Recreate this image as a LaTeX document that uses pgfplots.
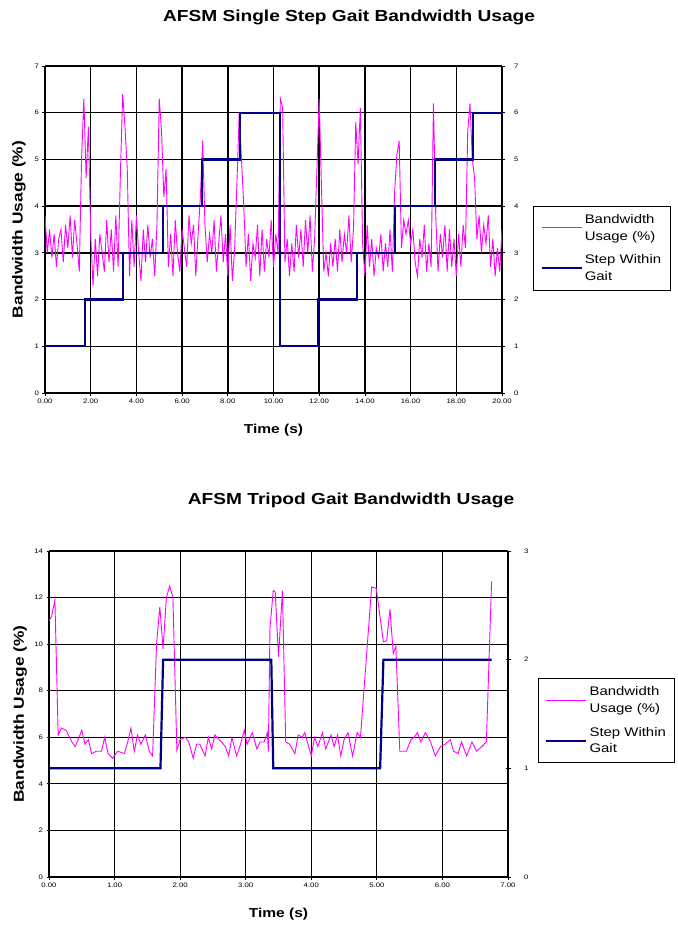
\documentclass[border=0pt]{standalone}
\usepackage{fontspec}
\setmainfont{Liberation Sans}[FakeStretch=1.2]
\usepackage{pgfplots}
\pgfplotsset{compat=1.18}
\definecolor{bwmag}{RGB}{255,0,255}
\definecolor{stepnavy}{RGB}{0,0,128}
\pgfplotsset{
  base/.style={
    scale only axis, anchor=south west,
    /pgf/number format/assume math mode=true,
    ticklabel style={font=\fontsize{6.5}{7}\selectfont},
    axis line style={black, line width=1bp},
    tick style={black, line width=0.8bp},
    tick align=center, major tick length=5bp,
    every axis y label/.style={rotate=90, anchor=center, font=\bfseries\fontsize{14.5}{16}\selectfont},
    every axis x label/.style={at={(axis description cs:0.5,0)}, anchor=center, yshift=-37bp, font=\bfseries\fontsize{13}{15}\selectfont},
    legend image code/.code={\draw[#1] (0bp,0bp) -- (40bp,0bp);},
    legend cell align=left,
    legend style={draw=black, line width=1bp, font=\fontsize{12.5}{17}\selectfont, cells={align=left}, row sep=9bp, inner xsep=7bp, inner ysep=6bp, /tikz/column 2/.style={column sep=5bp}},
  },
}
\begin{document}
\begin{tikzpicture}
\useasboundingbox (0,0) rectangle (678bp,-926bp);
\node[font=\bfseries\fontsize{16}{18}\selectfont] at (349bp,-17bp) {AFSM Single Step Gait Bandwidth Usage};
\node[font=\bfseries\fontsize{16}{18}\selectfont] at (351bp,-500bp) {AFSM Tripod Gait Bandwidth Usage};
% ---------- top chart ----------
\begin{axis}[base, at={(45bp,-393bp)}, width=457bp, height=327bp,
  xmin=0, xmax=20, ymin=0, ymax=7,
  xtick={0,2,...,20}, ytick={0,1,...,7},
  xticklabel style={/pgf/number format/.cd, fixed, fixed zerofill, precision=2},
  grid=major, major grid style={black, line width=1.5bp},
  axis y line*=left, axis x line*=bottom,
  xlabel={Time (s)}, ylabel={Bandwidth Usage (\%)},
  ylabel style={at={(axis description cs:-0.057,0.5)}}]
\addplot[bwmag, line width=0.9bp] coordinates {
(0.0,3.8)(0.1,3.0)(0.2,3.5)(0.3,2.9)(0.4,3.4)(0.5,2.7)(0.6,3.3)(0.7,3.5)(0.8,2.8)(0.9,3.6)
(1.0,3.1)(1.1,3.8)(1.2,2.9)(1.3,3.7)(1.4,3.2)(1.5,2.6)(1.6,5.0)(1.7,6.3)(1.8,4.6)(1.9,5.7)
(2.0,3.4)(2.1,2.3)(2.2,3.3)(2.3,2.5)(2.4,3.4)(2.5,3.0)(2.6,2.6)(2.7,3.7)(2.8,2.8)(2.9,3.5)
(3.0,2.6)(3.1,3.8)(3.2,2.7)(3.3,4.7)(3.4,6.4)(3.5,5.7)(3.6,4.8)(3.7,2.5)(3.8,3.7)(3.9,2.7)
(4.0,3.8)(4.1,3.0)(4.2,2.4)(4.3,3.5)(4.4,2.8)(4.5,3.6)(4.6,2.9)(4.7,3.3)(4.8,2.5)(4.9,3.6)
(5.0,6.3)(5.1,5.6)(5.2,4.2)(5.3,4.8)(5.4,2.7)(5.5,3.4)(5.6,2.5)(5.7,3.7)(5.8,3.0)(5.9,2.6)
(6.0,3.5)(6.1,3.1)(6.2,2.7)(6.3,3.8)(6.4,3.2)(6.5,3.6)(6.6,2.5)(6.7,3.4)(6.8,4.2)(6.9,5.4)
(7.0,3.6)(7.1,2.8)(7.2,3.4)(7.3,3.0)(7.4,3.7)(7.5,2.6)(7.6,3.2)(7.7,3.8)(7.8,2.8)(7.9,3.4)
(8.0,2.5)(8.1,3.6)(8.2,2.4)(8.3,3.1)(8.4,4.5)(8.5,6.0)(8.6,5.0)(8.7,4.0)(8.8,2.7)(8.9,3.4)
(9.0,2.4)(9.1,3.2)(9.2,2.9)(9.3,3.6)(9.4,2.5)(9.5,3.5)(9.6,2.6)(9.7,3.3)(9.8,2.9)(9.9,3.7)
(10.0,2.7)(10.1,3.4)(10.2,3.0)(10.3,6.3)(10.4,6.1)(10.5,2.8)(10.6,3.3)(10.7,2.5)(10.8,3.2)(10.9,2.6)
(11.0,3.6)(11.1,2.9)(11.2,3.5)(11.3,2.7)(11.4,3.7)(11.5,3.0)(11.6,3.8)(11.7,2.6)(11.8,3.3)(11.9,4.8)
(12.0,6.3)(12.1,4.4)(12.2,2.6)(12.3,3.0)(12.4,2.5)(12.5,3.2)(12.6,2.7)(12.7,3.3)(12.8,2.6)(12.9,3.5)
(13.0,2.8)(13.1,3.4)(13.2,3.0)(13.3,3.8)(13.4,2.8)(13.5,3.5)(13.6,5.8)(13.7,4.9)(13.8,6.1)(13.9,3.2)
(14.0,2.5)(14.1,3.6)(14.2,2.7)(14.3,3.3)(14.4,2.5)(14.5,3.1)(14.6,2.9)(14.7,3.4)(14.8,2.6)(14.9,3.2)
(15.0,2.7)(15.1,3.5)(15.2,2.6)(15.3,4.3)(15.4,5.1)(15.5,5.4)(15.6,3.1)(15.7,3.7)(15.8,3.4)(15.9,3.7)
(16.0,3.2)(16.1,3.5)(16.2,2.8)(16.3,2.5)(16.4,3.3)(16.5,2.9)(16.6,3.6)(16.7,2.6)(16.8,3.2)(16.9,2.7)
(17.0,6.2)(17.1,3.8)(17.2,2.6)(17.3,3.4)(17.4,2.9)(17.5,3.6)(17.6,2.6)(17.7,3.5)(17.8,2.7)(17.9,3.3)
(18.0,2.5)(18.1,3.4)(18.2,2.7)(18.3,3.6)(18.4,3.1)(18.5,5.6)(18.6,6.2)(18.7,5.0)(18.8,4.6)(18.9,3.3)
(19.0,3.8)(19.1,3.0)(19.2,3.6)(19.3,3.2)(19.4,3.8)(19.5,2.7)(19.6,3.3)(19.7,2.5)(19.8,3.1)(19.9,2.6)
(20.0,3.5)};
\end{axis}
\begin{axis}[base, at={(45bp,-393bp)}, width=457bp, height=327bp,
  xmin=0, xmax=20, ymin=0, ymax=7, ytick={0,1,...,7},
  yticklabel style={xshift=6bp},
  axis y line*=right, axis x line=none,
  legend style={at={(1.068,0.443)}, anchor=west}]
\addlegendimage{bwmag, line width=1bp}
\addlegendentry{Bandwidth\\Usage (\%)}
\addplot[stepnavy, line width=2.2bp] coordinates {
(0,1)(1.75,1)(1.75,2)(3.41,2)(3.41,3)(5.16,3)(5.16,4)(6.87,4)(6.87,5)(8.53,5)(8.53,6)(10.28,6)
(10.28,1)(11.95,1)(11.95,2)(13.65,2)(13.65,3)(15.3,3)(15.3,4)(17.07,4)(17.07,5)(18.73,5)(18.73,6)(20,6)};
\addlegendentry{Step Within\\Gait}
\end{axis}
% ---------- bottom chart ----------
\begin{axis}[base, at={(49bp,-877bp)}, width=459bp, height=326bp,
  xmin=0, xmax=7, ymin=0, ymax=14,
  xtick={0,1,...,7}, ytick={0,2,...,14},
  xticklabel style={/pgf/number format/.cd, fixed, fixed zerofill, precision=2},
  grid=major, major grid style={black, line width=1.1bp},
  axis y line*=left, axis x line*=bottom,
  xlabel={Time (s)}, ylabel={Bandwidth Usage (\%)},
  ylabel style={at={(axis description cs:-0.063,0.5)}}]
\addplot[bwmag, line width=0.9bp] coordinates {
(0.00,11.0)(0.04,11.2)(0.09,11.9)(0.14,6.1)(0.19,6.4)(0.26,6.3)(0.35,5.8)(0.40,5.6)(0.50,6.3)(0.55,5.7)
(0.60,5.9)(0.65,5.3)(0.72,5.4)(0.80,5.4)(0.85,6.0)(0.90,5.3)(0.97,5.1)(1.05,5.4)(1.15,5.3)(1.20,5.8)
(1.25,6.4)(1.30,5.4)(1.35,6.1)(1.40,5.7)(1.47,6.1)(1.53,5.4)(1.58,5.2)(1.64,10.0)(1.69,11.6)(1.74,9.8)
(1.79,12.0)(1.84,12.5)(1.89,12.0)(1.95,5.45)(2.00,5.9)(2.08,6.0)(2.13,5.8)(2.20,5.1)(2.25,5.7)(2.30,5.7)
(2.38,5.2)(2.43,6.0)(2.48,5.5)(2.53,6.1)(2.63,5.8)(2.69,5.6)(2.74,5.2)(2.79,6.0)(2.86,5.2)(2.91,5.6)
(2.98,6.3)(3.02,5.7)(3.10,6.2)(3.17,5.5)(3.22,5.8)(3.28,5.8)(3.33,6.2)(3.345,5.4)(3.37,10.7)(3.42,12.3)
(3.45,12.25)(3.50,9.45)(3.56,12.3)(3.61,5.8)(3.67,5.7)(3.75,5.3)(3.80,6.1)(3.86,6.0)(3.90,6.2)(3.94,5.8)
(4.00,5.2)(4.05,6.0)(4.10,5.6)(4.17,6.2)(4.22,5.5)(4.30,6.1)(4.35,5.6)(4.40,6.1)(4.45,5.2)(4.50,5.9)
(4.56,6.2)(4.63,5.2)(4.70,6.2)(4.75,6.0)(4.92,12.45)(4.99,12.4)(5.10,10.1)(5.15,10.15)(5.20,11.5)(5.25,9.6)
(5.29,9.9)(5.35,5.4)(5.45,5.4)(5.52,5.9)(5.57,6.0)(5.62,6.2)(5.67,5.8)(5.74,6.2)(5.82,5.8)(5.89,5.2)
(5.97,5.6)(6.04,5.7)(6.12,5.9)(6.17,5.4)(6.24,5.3)(6.29,5.8)(6.37,5.2)(6.45,5.8)(6.52,5.4)(6.60,5.6)
(6.67,5.8)(6.75,12.7)};
\end{axis}
\begin{axis}[base, at={(49bp,-877bp)}, width=459bp, height=326bp,
  xmin=0, xmax=7, ymin=0, ymax=3, ytick={0,1,2,3},
  yticklabel style={xshift=10bp},
  axis y line*=right, axis x line=none,
  legend style={at={(1.065,0.48)}, anchor=west}]
\addlegendimage{bwmag, line width=1bp}
\addlegendentry{Bandwidth\\Usage (\%)}
\addplot[stepnavy, line width=2.2bp] coordinates {
(0,1)(1.70,1)(1.74,2)(3.39,2)(3.42,1)(5.05,1)(5.10,2)(6.75,2)};
\addlegendentry{Step Within\\Gait}
\end{axis}
\end{tikzpicture}
\end{document}
